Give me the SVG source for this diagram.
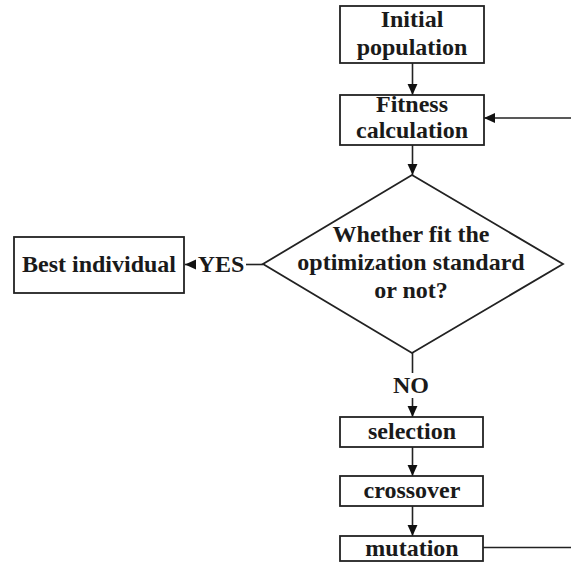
<svg xmlns="http://www.w3.org/2000/svg" width="571" height="562" viewBox="0 0 571 562">
<defs>
<style>
.box{fill:#fff;stroke:#222;stroke-width:1.8}
.t{font-family:"Liberation Serif","Times New Roman",serif;font-weight:bold;font-size:24px;fill:#1a1a1a;text-anchor:middle}
.c{fill:none;stroke:#222;stroke-width:1.6}
</style>
<marker id="ah" markerUnits="userSpaceOnUse" markerWidth="11" markerHeight="11" viewBox="0 0 10 10" refX="10" refY="5" orient="auto">
<path d="M0,0.5 L10,5 L0,9.5 Z" fill="#111"/>
</marker>
</defs>
<rect width="571" height="562" fill="#fff"/>
<g id="connectors">
<line class="c" x1="412.5" y1="63" x2="412.5" y2="95" marker-end="url(#ah)"/>
<line class="c" x1="571" y1="118" x2="484" y2="118" marker-end="url(#ah)"/>
<line class="c" x1="412.5" y1="145" x2="412.5" y2="175" marker-end="url(#ah)"/>
<line class="c" x1="263" y1="264.5" x2="246" y2="264.5"/>
<line class="c" x1="196" y1="264.5" x2="185" y2="264.5" marker-end="url(#ah)"/>
<line class="c" x1="412.5" y1="353" x2="412.5" y2="373"/>
<line class="c" x1="412.5" y1="398" x2="412.5" y2="417" marker-end="url(#ah)"/>
<line class="c" x1="412.5" y1="447" x2="412.5" y2="476" marker-end="url(#ah)"/>
<line class="c" x1="412.5" y1="506" x2="412.5" y2="536" marker-end="url(#ah)"/>
<line class="c" x1="483" y1="547.5" x2="571" y2="547.5"/>
<text class="t" x="221" y="272">YES</text>
<text class="t" x="411" y="393">NO</text>
</g>
<g id="initial-population">
<rect class="box" x="340" y="6" width="144" height="57"/>
<text class="t" x="412" y="27">Initial</text>
<text class="t" x="412" y="55">population</text>
</g>
<g id="fitness-calculation">
<rect class="box" x="340" y="95" width="144" height="50"/>
<text class="t" x="412" y="112">Fitness</text>
<text class="t" x="412" y="138">calculation</text>
</g>
<g id="decision">
<polygon class="box" points="412,175 563,264 412,353 263,264"/>
<text class="t" x="411" y="242">Whether fit the</text>
<text class="t" x="411" y="270">optimization standard</text>
<text class="t" x="411" y="298">or not?</text>
</g>
<g id="best-individual">
<rect class="box" x="14" y="237" width="170" height="56"/>
<text class="t" x="99" y="272">Best individual</text>
</g>
<g id="selection">
<rect class="box" x="340" y="417" width="143" height="30"/>
<text class="t" x="412" y="439">selection</text>
</g>
<g id="crossover">
<rect class="box" x="340" y="476" width="143" height="30"/>
<text class="t" x="412" y="498">crossover</text>
</g>
<g id="mutation">
<rect class="box" x="340" y="536" width="143" height="25"/>
<text class="t" x="412" y="556">mutation</text>
</g>
</svg>
